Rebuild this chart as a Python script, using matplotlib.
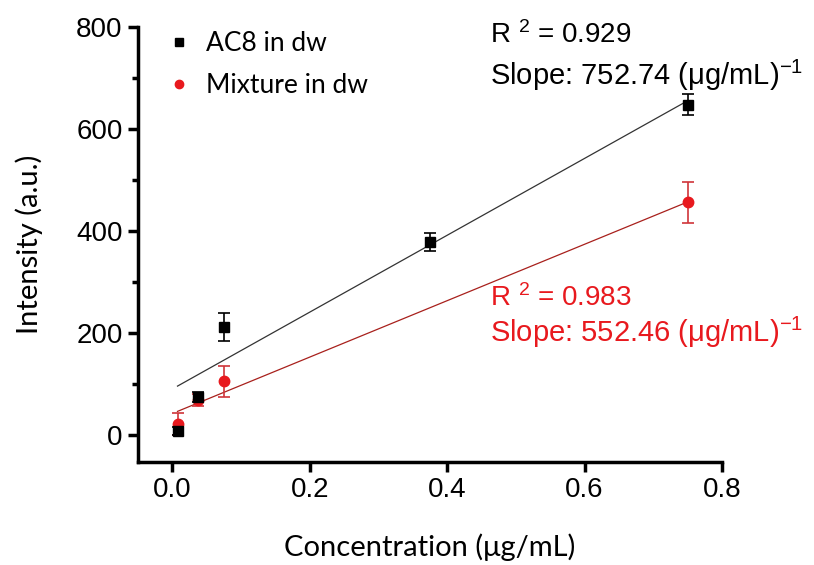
import matplotlib
matplotlib.use("Agg")
import matplotlib.pyplot as plt
from matplotlib.lines import Line2D
import numpy as np

# ---- data ----
conc_ac8 = [0.0075, 0.0375, 0.075, 0.375, 0.75]
int_ac8 = [8, 75, 212, 379, 648]
err_ac8 = [8, 10, 27, 17, 20]

conc_mix = [0.0075, 0.0375, 0.075, 0.75]
int_mix = [22, 70, 106, 457]
err_mix = [22, 12, 30, 40]

slope_ac8, intercept_ac8, r2_ac8 = 752.74, 91.0, 0.929
slope_mix, intercept_mix, r2_mix = 552.46, 43.0, 0.983

x_ticks = [0.0, 0.2, 0.4, 0.6, 0.8]
y_ticks = [0, 200, 400, 600, 800]

plt.rcParams['mathtext.fontset'] = 'custom'
plt.rcParams['mathtext.rm'] = 'Liberation Sans'
plt.rcParams['mathtext.it'] = 'Liberation Sans'

fig = plt.figure(figsize=(8.14, 5.65), dpi=100)
ax = fig.add_axes([138/814, 1-462/565, (722-138)/814, (462-27)/565])

red = '#e8191e'
# fit lines
xl_ac8 = np.array([min(conc_ac8), max(conc_ac8)])
xl_mix = np.array([min(conc_mix), max(conc_mix)])
ax.plot(xl_ac8, slope_ac8*xl_ac8 + intercept_ac8, color='#333333', lw=0.9, zorder=1)
ax.plot(xl_mix, slope_mix*xl_mix + intercept_mix, color='#a8201c', lw=0.9, zorder=1)

ax.errorbar(conc_mix, int_mix, yerr=err_mix, fmt='o', color=red, ecolor='#d0353a',
            ms=7.5, capsize=4, elinewidth=1.2, capthick=1.2, zorder=2)
ax.errorbar(conc_ac8, int_ac8, yerr=err_ac8, fmt='s', color='black', ecolor='black',
            ms=7, capsize=4, elinewidth=1.2, capthick=1.2, zorder=3)

ax.set_xlim(-0.05, 0.8)
ax.set_ylim(-52, 800)
ax.set_xticks(x_ticks)
ax.set_xticklabels([f"{v:.1f}" for v in x_ticks])
ax.set_yticks(y_ticks)
ax.set_yticks([100, 300, 500, 700], minor=True)

for s in ['top', 'right']:
    ax.spines[s].set_visible(False)
for s in ['left', 'bottom']:
    ax.spines[s].set_linewidth(2.5)
ax.tick_params(which='major', direction='out', length=7, width=2.5,
               labelsize=20, pad=4)
ax.tick_params(which='minor', direction='out', length=4, width=2.5)
for lab in ax.get_xticklabels() + ax.get_yticklabels():
    lab.set_family('Liberation Sans')

ax.set_xlabel('Concentration (μg/mL)', family='Lato', fontsize=21, labelpad=22)
ax.set_ylabel('Intensity (a.u.)', family='Lato', fontsize=21, labelpad=24)

handles = [Line2D([], [], marker='s', color='black', ls='none', ms=6),
           Line2D([], [], marker='o', color=red, ls='none', ms=6)]
ax.legend(handles, ['AC8 in dw', 'Mixture in dw'], loc='upper left',
          bbox_to_anchor=(0.012, 1.045), frameon=False,
          prop={'family': 'Lato', 'size': 19}, handletextpad=0.6,
          labelspacing=0.65, handlelength=0.8)

ax.text(0.462, 784, r'R $^{2}$ = ' + f'{r2_ac8:.3f}', family='Liberation Sans',
        fontsize=20, va='center', ha='left', color='black')
ax.text(0.462, 705, f'Slope: {slope_ac8:.2f} (μg/mL)' + r'$^{-1}$',
        family='Liberation Sans', fontsize=21, va='center', ha='left', color='black')
ax.text(0.462, 269, r'R $^{2}$ = ' + f'{r2_mix:.3f}', family='Liberation Sans',
        fontsize=20, va='center', ha='left', color=red)
ax.text(0.462, 202, f'Slope: {slope_mix:.2f} (μg/mL)' + r'$^{-1}$',
        family='Liberation Sans', fontsize=21, va='center', ha='left', color=red)

fig.savefig('out.png', dpi=100)
